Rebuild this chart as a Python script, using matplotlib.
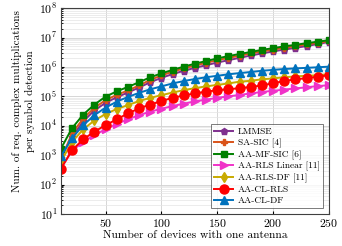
import numpy as np
import matplotlib
matplotlib.use("Agg")
import matplotlib.pyplot as plt

plt.rcParams['font.family'] = 'cmr10'
plt.rcParams['mathtext.fontset'] = 'cm'
plt.rcParams['axes.formatter.use_mathtext'] = True

devices = np.arange(10, 251, 10)

# log10 of required complex multiplications
lmmse = [2.92, 3.62, 4.15, 4.52, 4.78, 4.97, 5.13, 5.30, 5.48, 5.63, 5.76, 5.87, 5.97,
         6.06, 6.15, 6.23, 6.31, 6.39, 6.46, 6.53, 6.59, 6.65, 6.71, 6.78, 6.85]
sa_sic = [2.85, 3.74, 4.25, 4.61, 4.87, 5.05, 5.20, 5.37, 5.56, 5.71, 5.84, 5.95, 6.05,
          6.14, 6.23, 6.31, 6.38, 6.46, 6.53, 6.59, 6.65, 6.71, 6.77, 6.82, 6.88]
aa_mf_sic = [3.22, 3.92, 4.38, 4.72, 4.99, 5.17, 5.32, 5.48, 5.65, 5.78, 5.90, 6.01, 6.11,
             6.20, 6.29, 6.37, 6.44, 6.51, 6.58, 6.64, 6.70, 6.75, 6.81, 6.86, 6.91]
aa_rls_lin = [2.55, 3.15, 3.45, 3.68, 3.88, 4.06, 4.22, 4.36, 4.48, 4.58, 4.67, 4.75, 4.83,
              4.89, 4.95, 5.00, 5.05, 5.10, 5.15, 5.19, 5.23, 5.27, 5.31, 5.35, 5.38]
aa_rls_df = [2.78, 3.45, 3.88, 4.18, 4.40, 4.57, 4.70, 4.84, 4.95, 5.04, 5.13, 5.21, 5.28,
             5.34, 5.39, 5.44, 5.50, 5.53, 5.58, 5.61, 5.65, 5.68, 5.70, 5.72, 5.75]
aa_cl_rls = [2.54, 3.17, 3.54, 3.80, 4.02, 4.22, 4.42, 4.59, 4.72, 4.84, 4.95, 5.03, 5.10,
             5.16, 5.21, 5.24, 5.28, 5.32, 5.37, 5.45, 5.52, 5.58, 5.62, 5.67, 5.72]
aa_cl_df = [2.96, 3.58, 4.02, 4.36, 4.62, 4.82, 4.98, 5.12, 5.24, 5.34, 5.44, 5.52, 5.59,
            5.65, 5.70, 5.75, 5.79, 5.83, 5.87, 5.90, 5.93, 5.95, 5.97, 5.99, 6.01]

series = [
    ('LMMSE', lmmse, '#7E2F8E', 'p', 5),
    ('SA-SIC [4]', sa_sic, '#D95319', 'P', 5),
    ('AA-MF-SIC [6]', aa_mf_sic, '#008000', 's', 4.5),
    ('AA-RLS Linear [11]', aa_rls_lin, '#F032C8', '>', 5.5),
    ('AA-RLS-DF [11]', aa_rls_df, '#C8AA00', 'd', 5.5),
    ('AA-CL-RLS', aa_cl_rls, '#FF0000', 'o', 6.5),
    ('AA-CL-DF', aa_cl_df, '#0072BD', '^', 5.5),
]

fig = plt.figure(figsize=(3.42, 2.46), dpi=100)
ax = fig.add_axes([0.178, 0.130, 0.784, 0.837])

for name, vals, col, mk, ms in series:
    ax.plot(devices, 10 ** np.array(vals), color=col, marker=mk, markersize=ms,
            linewidth=1.4, label=name)

ax.set_yscale('log')
ax.set_xlim(10, 250)
ax.set_ylim(1e1, 1e8)
ax.set_xticks([50, 100, 150, 200, 250])
ax.grid(True, which='major', color='#d0d0d0', linewidth=0.6)
ax.grid(True, which='minor', axis='y', color='#e4e4e4', linewidth=0.5)
ax.set_axisbelow(True)
ax.tick_params(labelsize=8.5, direction='in', length=2.5, pad=2.5)
ax.tick_params(which='minor', direction='in', length=1.5)
for s in ax.spines.values():
    s.set_color('#404040')

ax.set_xlabel('Number of devices with one antenna', fontsize=8.3, labelpad=1)
ax.set_ylabel('Num. of req. complex multiplications\nper symbol detection', fontsize=8.0,
              linespacing=1.45)
ax.yaxis.set_label_coords(-0.095, 0.55)

leg = ax.legend(loc='lower right', fontsize=6.8, frameon=True, fancybox=False,
                edgecolor='#404040', borderpad=0.35, labelspacing=0.25, handlelength=2.0,
                handletextpad=0.5, borderaxespad=0.6)
leg.get_frame().set_linewidth(0.6)

fig.savefig('out.png', dpi=100)
